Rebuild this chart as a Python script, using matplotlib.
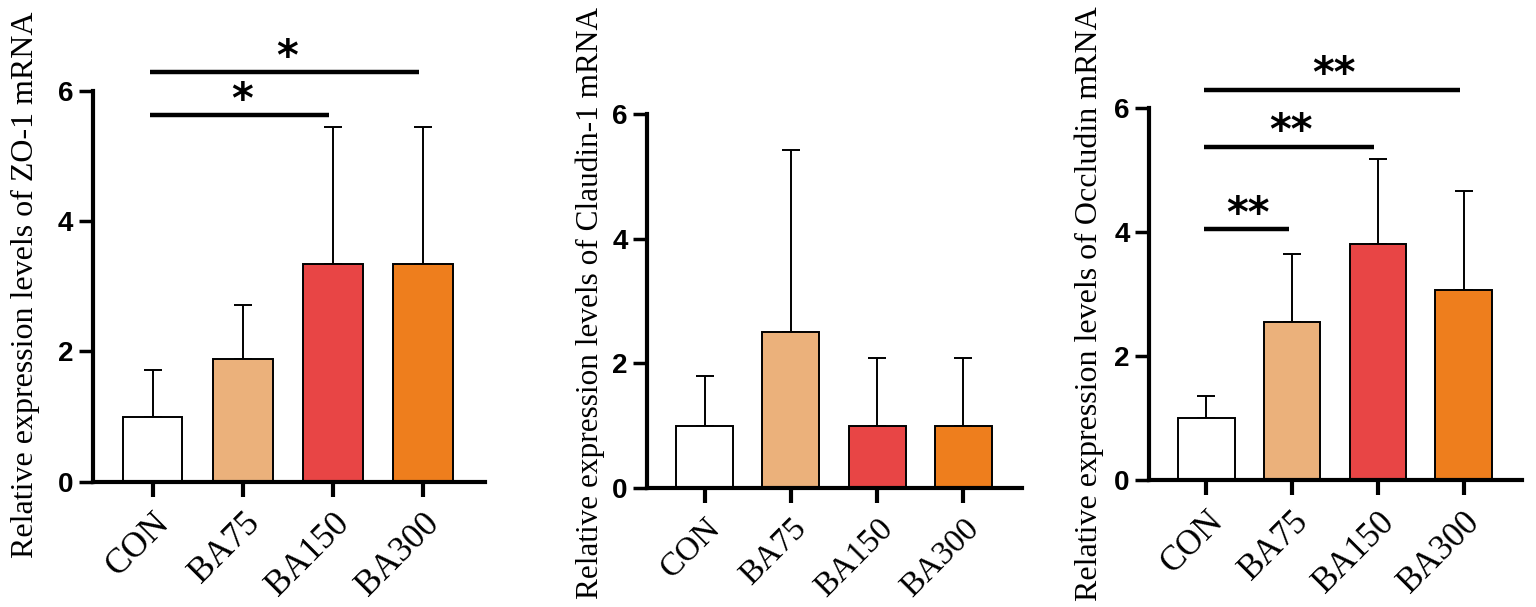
import matplotlib
matplotlib.use('Agg')
import matplotlib.pyplot as plt
import numpy as np

groups = ['CON', 'BA75', 'BA150', 'BA300']
bar_colors = ['#FFFFFF', '#EBB17B', '#E84545', '#EE7E1D']

zo1_mean = [1.0, 1.88, 3.34, 3.34]
zo1_upper = [1.72, 2.71, 5.44, 5.44]
cld_mean = [1.0, 2.51, 1.0, 1.0]
cld_upper = [1.79, 5.43, 2.09, 2.09]
occ_mean = [1.0, 2.55, 3.80, 3.07]
occ_upper = [1.36, 3.65, 5.17, 4.66]

zo1_pairs = [(0, 2), (0, 3)]
zo1_sig_y = [5.62, 6.28]
zo1_sig = ['*', '*']
occ_pairs = [(0, 1), (0, 2), (0, 3)]
occ_sig_y = [4.04, 5.37, 6.29]
occ_sig = ['**', '**', '**']

ylabels = ['Relative expression levels of ZO-1 mRNA',
           'Relative expression levels of Claudin-1 mRNA',
           'Relative expression levels of Occludin mRNA']

fig = plt.figure(figsize=(15.36, 6.07), dpi=100)
# axes boxes in figure fraction (left, bottom, width, height)
boxes = [[0.0605, 0.2064, 0.2553, 0.6442],
         [0.4212, 0.1960, 0.2442, 0.6162],
         [0.7482, 0.2092, 0.2425, 0.6134]]
xlims = [(-0.664, 3.69), (-0.667, 3.68), (-0.664, 3.676)]
label_x = [-0.173, -0.152, -0.161]
label_y = [0.503, 0.495, 0.475]
label_size = [23, 22.5, 23]
tick_size = [25.5, 24, 25]

means = [zo1_mean, cld_mean, occ_mean]
uppers = [zo1_upper, cld_upper, occ_upper]
sigs = [(zo1_pairs, zo1_sig_y, zo1_sig), None, (occ_pairs, occ_sig_y, occ_sig)]

x = np.arange(len(groups))
for k in range(3):
    ax = fig.add_axes(boxes[k])
    m = np.array(means[k])
    up = np.array(uppers[k]) - m
    ax.bar(x, m, width=0.66, color=bar_colors, edgecolor='black', linewidth=1.4, zorder=2)
    ax.errorbar(x, m, yerr=[np.zeros(len(m)), up], fmt='none', ecolor='black',
                elinewidth=1.4, capsize=6.5, capthick=1.4, zorder=1)
    ax.set_xlim(*xlims[k])
    ax.set_ylim(0, 6)
    ax.set_yticks([0, 2, 4, 6])
    ax.set_yticklabels(['0', '2', '4', '6'], fontsize=20, fontweight='bold',
                       family='Liberation Sans')
    ax.set_xticks(x)
    ax.set_xticklabels(groups, fontsize=tick_size[k], family='Liberation Serif', rotation=45,
                       ha='right', va='top', rotation_mode='anchor')
    for s in ['top', 'right']:
        ax.spines[s].set_visible(False)
    for s in ['left', 'bottom']:
        ax.spines[s].set_linewidth(3)
    ax.tick_params(axis='x', length=11, width=3, direction='out', pad=7)
    ax.tick_params(axis='y', length=10, width=2.5, direction='out', pad=4)
    ax.text(label_x[k], label_y[k], ylabels[k], transform=ax.transAxes, rotation=90,
            ha='center', va='center', fontsize=label_size[k], family='Liberation Serif')
    if sigs[k] is not None:
        pairs, ys, marks = sigs[k]
        for (i, j), y, mk in zip(pairs, ys, marks):
            ax.plot([i - 0.03, j - 0.04], [y, y], color='black', linewidth=3.2,
                    solid_capstyle='butt', clip_on=False)
            ax.text((i + j) / 2 - 0.01, y + 0.04, mk, ha='center', va='baseline',
                    fontsize=30, fontweight='bold', family='DejaVu Sans', clip_on=False)

fig.savefig('out.png', dpi=100)
